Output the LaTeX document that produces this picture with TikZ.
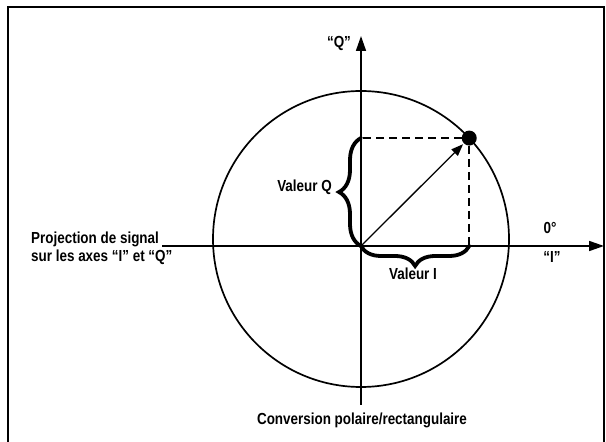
\documentclass[tikz,border=0pt]{standalone}
\usepackage{fontspec}
\setmainfont{Liberation Sans}[FakeStretch=0.84]
\usetikzlibrary{arrows.meta,positioning,calc,decorations.pathreplacing}
\tikzset{
  x=1pt,y=1pt,
  >={Triangle[length=15pt,width=10pt]},
  frame/.style={line width=2.4pt},
  axis/.style={->,line width=1.7pt},
  ring/.style={line width=1.7pt},
  vec/.style={-{Triangle[length=12pt,width=9pt]},line width=1.3pt,shorten >=1pt},
  proj/.style={line width=1.7pt,dash pattern=on 8pt off 5pt},
  curly/.style={line width=3.8pt,line cap=round,decorate,
    decoration={brace,amplitude=#1}},
  curly/.default=21pt,
  dot/.style={circle,fill=black,minimum size=15pt,inner sep=0pt},
  lbl/.style={font=\fontsize{16}{18}\selectfont\bfseries,inner sep=1pt},
}
\begin{document}
\begin{tikzpicture}
  \useasboundingbox (0,0) rectangle (606,442);
  \draw[frame] (8,-3) -- (8,435) -- (604,435) -- (604,-3);
  % circle and axes
  \coordinate (C) at (361,203);
  \coordinate (O) at (361,196);
  \draw[ring] (C) circle (148);
  \node[lbl,align=left,anchor=west] (proj) at (30,194) {Projection de signal\\sur les axes “I” et “Q”};
  \coordinate (Iw) at (162,196);
  \coordinate (Ie) at (604,196);
  \coordinate (Qs) at (361,37);
  \coordinate (Qn) at (361,406);
  \draw[axis] (Iw) -- (Ie);
  \draw[axis] (Qs) -- (Qn);
  % signal point and its projections
  \node[dot] (P) at ($(C)+(43:148)$) {};
  \coordinate (Qp) at (O |- P);
  \coordinate (Ip) at (P |- O);
  \draw[vec] (O) -- (P);
  \draw[proj] (P) -- (Qp);
  \draw[proj] (P) -- (Ip);
  \draw[curly=22pt] (O) -- (Qp);
  \draw[curly=20pt] (Ip) -- (O);
  % labels
  \node[lbl,anchor=east] (valQ) at (333,255) {Valeur Q};
  \node[lbl] (valI) at (413,168) {Valeur I};
  \node[lbl] (deg) at (550,214) {0°};
  \node[lbl] (labI) at (552,185) {“I”};
  \node[lbl] (labQ) at (339,399) {“Q”};
  \node[lbl] (conv) at (362,22) {Conversion polaire/rectangulaire};
\end{tikzpicture}
\end{document}
